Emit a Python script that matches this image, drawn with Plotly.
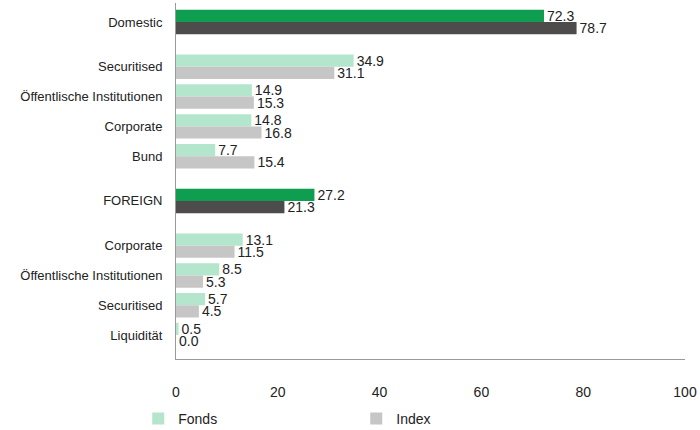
import plotly.graph_objects as go

# ---- data ----
categories = [
    "Domestic", "Securitised", "Öffentlische Institutionen", "Corporate", "Bund",
    "FOREIGN", "Corporate", "Öffentlische Institutionen", "Securitised", "Liquidität",
]
fonds = [72.3, 34.9, 14.9, 14.8, 7.7, 27.2, 13.1, 8.5, 5.7, 0.5]
index_vals = [78.7, 31.1, 15.3, 16.8, 15.4, 21.3, 11.5, 5.3, 4.5, 0.0]
is_total = [True, False, False, False, False, True, False, False, False, False]
x_ticks = [0, 20, 40, 60, 80, 100]

# ---- layout positions: extra half slot around the total rows ----
positions = []
p = 0.0
for i, t in enumerate(is_total):
    if i > 0:
        p += 1.0
        if t or is_total[i - 1]:
            p += 0.5
    positions.append(p)

FONT = "Liberation Sans, Arial, sans-serif"
TXT = "#222222"
BAR_W = 0.41

styles = {
    "Fonds": {"light": "#b3e6cc", "dark": "#0f9d50", "offset": -BAR_W},
    "Index": {"light": "#c6c6c6", "dark": "#4d4b4c", "offset": 0.0},
}

fig = go.Figure()
for name, vals in (("Fonds", fonds), ("Index", index_vals)):
    st = styles[name]
    for total_flag in (False, True):
        idx = [i for i, t in enumerate(is_total) if t == total_flag]
        fig.add_trace(go.Bar(
            orientation="h",
            x=[vals[i] for i in idx],
            y=[positions[i] for i in idx],
            name=name,
            legendgroup=name,
            showlegend=not total_flag,
            width=BAR_W,
            offset=st["offset"],
            marker=dict(color=st["dark"] if total_flag else st["light"], line=dict(width=0)),
            text=[f"{vals[i]:.1f}" for i in idx],
            textposition="outside",
            textfont=dict(family=FONT, size=14, color=TXT),
            constraintext="none",
            cliponaxis=False,
            hoverinfo="skip",
        ))

fig.update_layout(
    width=700,
    height=430,
    barmode="overlay",
    paper_bgcolor="white",
    plot_bgcolor="white",
    font=dict(family=FONT, size=13, color=TXT),
    margin=dict(l=176, r=12, t=3, b=65, pad=0),
    showlegend=True,
    legend=dict(
        orientation="h",
        xref="container",
        yref="container",
        x=0.1975,
        y=0.0256,
        xanchor="left",
        yanchor="middle",
        font=dict(family=FONT, size=14, color=TXT),
        entrywidth=173,
        entrywidthmode="pixels",
        bgcolor="rgba(0,0,0,0)",
        traceorder="normal",
    ),
    xaxis=dict(
        range=[0, 100],
        tickvals=x_ticks,
        ticktext=[str(v) for v in x_ticks],
        showgrid=False,
        zeroline=False,
        showline=True,
        linecolor="#9a9a9a",
        linewidth=1,
        ticks="",
        ticklabelstandoff=20,
        tickfont=dict(family=FONT, size=14, color=TXT),
        fixedrange=True,
    ),
    yaxis=dict(
        range=[positions[-1] + 0.81, -0.64],
        tickvals=positions,
        ticktext=categories,
        showgrid=False,
        zeroline=False,
        showline=True,
        linecolor="#9a9a9a",
        linewidth=1,
        ticks="",
        ticklabelstandoff=10,
        tickfont=dict(family=FONT, size=13, color=TXT),
        fixedrange=True,
    ),
)

fig.write_html(
    "out.html",
    config={"displayModeBar": False},
    post_script="document.body.style.margin='0';document.body.style.overflow='hidden';",
)
